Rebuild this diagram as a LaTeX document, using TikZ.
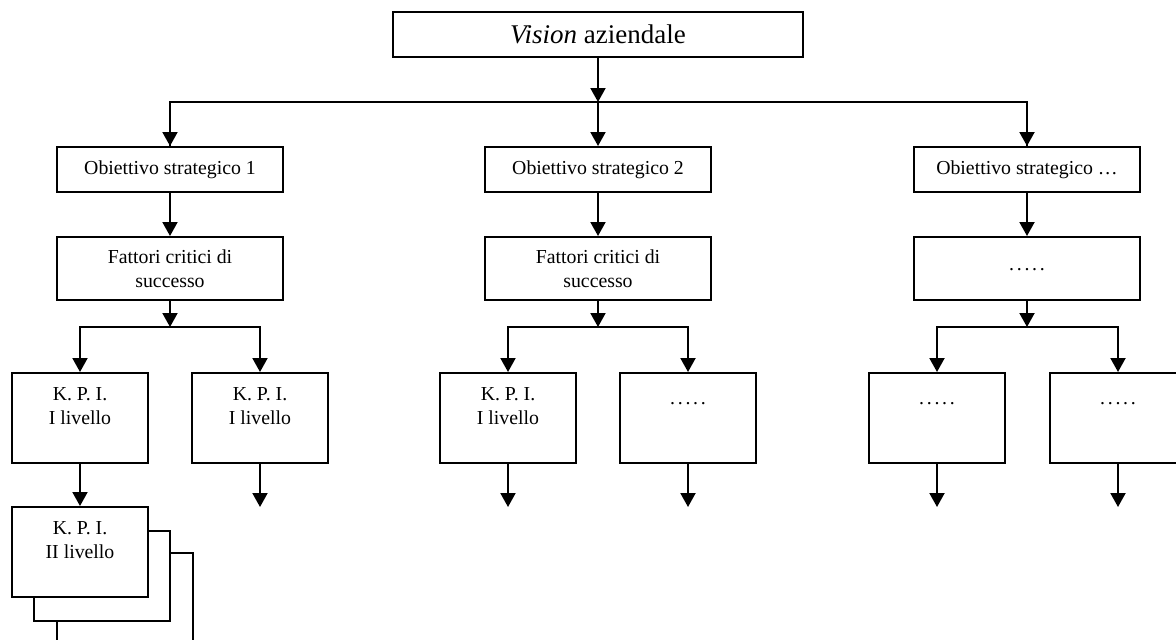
\documentclass[tikz,border=0pt]{standalone}
\usepackage{fontspec}
\setmainfont{Liberation Serif}
\usetikzlibrary{arrows.meta}
% text of a KPI box: set near the top of a fixed-size frame
\newcommand{\kpitext}[1]{\parbox[c][90pt][t]{136pt}{\centering\vspace*{11pt}\strut#1}}
\newcommand{\dotrow}{\raisebox{-4pt}{.\kern2.7pt.\kern2.7pt.\kern2.7pt.\kern2.7pt.}}
\begin{document}
\begin{tikzpicture}[x=1pt,y=-1pt,
  every node/.style={font=\fontsize{19.8}{24}\selectfont},
  frame/.style={draw, line width=2pt, fill=white, inner sep=0pt},
  goalbox/.style={frame, minimum width=226pt, minimum height=45pt},
  factorbox/.style={frame, minimum width=226pt, minimum height=63pt, align=center},
  kpibox/.style={frame, minimum width=136pt, minimum height=90pt},
  conn/.style={line width=2pt},
  arr/.style={conn, -{Triangle[width=15pt,length=14pt]}}
]
\clip (0,0) rectangle (1176,640);

% top level
\node[frame, minimum width=410pt, minimum height=45pt,
      font=\fontsize{27}{32}\selectfont] (vision) at (598,34.5) {\textit{Vision} aziendale};
\coordinate (hub) at (598,102);

% strategic objectives
\node[goalbox] (o1) at (170,169.5) {Obiettivo strategico 1};
\node[goalbox] (o2) at (598,169.5) {Obiettivo strategico 2};
\node[goalbox] (o3) at (1027,169.5) {Obiettivo strategico …};

% critical success factors
\node[factorbox] (f1) at (170,268.5) {Fattori critici di\\successo};
\node[factorbox] (f2) at (598,268.5) {Fattori critici di\\successo};
\node[factorbox] (f3) at (1027,268.5) {\dotrow};

\coordinate (s1) at (170,327);
\coordinate (s2) at (598,327);
\coordinate (s3) at (1027,327);

% first-level KPIs
\node[kpibox] (k11) at (80,418) {\kpitext{K. P. I.\\I livello}};
\node[kpibox] (k12) at (260,418) {\kpitext{K. P. I.\\I livello}};
\node[kpibox] (k21) at (508,418) {\kpitext{K. P. I.\\I livello}};
\node[kpibox] (k22) at (688,418) {\kpitext{\dotrow}};
\node[kpibox] (k31) at (937,418) {\kpitext{\dotrow}};
\node[kpibox] (k32) at (1118,418) {\kpitext{\dotrow}};

% second-level KPIs, stacked
\node[kpibox] (ii3) at (125,598) {};
\node[kpibox] (ii2) at (102,576) {};
\node[kpibox] (ii1) at (80,552) {\kpitext{K. P. I.\\II livello}};

% open ends below the first-level KPIs
\coordinate (e12) at (260,507);
\coordinate (e21) at (508,507);
\coordinate (e22) at (688,507);
\coordinate (e31) at (937,507);
\coordinate (e32) at (1118,507);

% connectors
\draw[arr] (vision.south) -- (hub);
\draw[conn] (hub) -| (o1.north);
\draw[conn] (hub) -| (o3.north);
\draw[arr] (hub) -- (o2.north);
\draw[arr] (hub) ++(-428,0) -- (o1.north);
\draw[arr] (hub) ++(429,0) -- (o3.north);

\draw[arr] (o1.south) -- (f1.north);
\draw[arr] (o2.south) -- (f2.north);
\draw[arr] (o3.south) -- (f3.north);

\draw[arr] (f1.south) -- (s1);
\draw[arr] (f2.south) -- (s2);
\draw[arr] (f3.south) -- (s3);

\draw[arr] (s1) -| (k11.north);
\draw[arr] (s1) -| (k12.north);
\draw[arr] (s2) -| (k21.north);
\draw[arr] (s2) -| (k22.north);
\draw[arr] (s3) -| (k31.north);
\draw[arr] (s3) -| (k32.north);

\draw[arr] (k11.south) -- (ii1.north);
\draw[arr] (k12.south) -- (e12);
\draw[arr] (k21.south) -- (e21);
\draw[arr] (k22.south) -- (e22);
\draw[arr] (k31.south) -- (e31);
\draw[arr] (k32.south) -- (e32);
\end{tikzpicture}
\end{document}
